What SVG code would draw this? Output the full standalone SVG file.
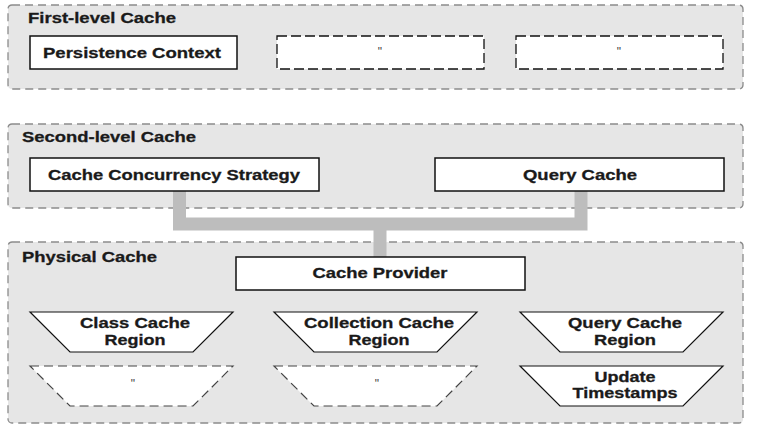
<svg xmlns="http://www.w3.org/2000/svg" width="760" height="436" viewBox="0 0 760 436">
<style>
  .cont{fill:#e6e6e6;stroke:#8c8c8c;stroke-width:1.3;stroke-dasharray:8 5}
  .box{fill:#fff;stroke:#111;stroke-width:1.5}
  .dbox{fill:#fff;stroke:#111;stroke-width:1.3;stroke-dasharray:10 4}
  .trap{fill:#fff;stroke:#111;stroke-width:1.2}
  .dtrap{fill:#fff;stroke:#444;stroke-width:1.2;stroke-dasharray:9 5}
  text{font-family:"Liberation Sans",Arial,Helvetica,sans-serif;font-weight:bold;font-size:15px;fill:#1a1a1a;stroke:#1a1a1a;stroke-width:0.3}
  .c{text-anchor:middle}
  .q{font-size:12px;font-weight:normal;fill:#444;stroke:none}
  .conn{fill:none;stroke:#bdbdbd;stroke-width:13;stroke-linejoin:miter}
</style>
<rect width="760" height="436" fill="#fff"/>
<g id="first-level-cache">
  <rect class="cont" x="8" y="5" width="735" height="84" rx="4"/>
  <text x="28" y="23" textLength="148" lengthAdjust="spacingAndGlyphs">First-level Cache</text>
</g>
<g id="second-level-cache">
  <rect class="cont" x="8" y="124" width="735" height="84" rx="4"/>
  <text x="22" y="142" textLength="174" lengthAdjust="spacingAndGlyphs">Second-level Cache</text>
</g>
<g id="physical-cache">
  <rect class="cont" x="8" y="242" width="735" height="181" rx="4"/>
  <text x="22" y="262" textLength="135" lengthAdjust="spacingAndGlyphs">Physical Cache</text>
</g>
<g id="connectors">
  <path class="conn" d="M179.5,191 V224 H581 V191"/>
  <path class="conn" d="M380,224 V257"/>
</g>
<g id="persistence-context">
  <rect class="box" x="30" y="36" width="207" height="33"/>
  <text class="c" x="132" y="58" textLength="178" lengthAdjust="spacingAndGlyphs">Persistence Context</text>
</g>
<g id="context-2">
  <rect class="dbox" x="277" y="36" width="207" height="33"/>
  <text class="c q" x="380" y="56">"</text>
</g>
<g id="context-3">
  <rect class="dbox" x="516" y="36" width="207" height="33"/>
  <text class="c q" x="619" y="56">"</text>
</g>
<g id="cache-concurrency-strategy">
  <rect class="box" x="30" y="158" width="289" height="33"/>
  <text class="c" x="174" y="180" textLength="252" lengthAdjust="spacingAndGlyphs">Cache Concurrency Strategy</text>
</g>
<g id="query-cache">
  <rect class="box" x="435" y="158" width="289" height="33"/>
  <text class="c" x="580" y="180" textLength="114" lengthAdjust="spacingAndGlyphs">Query Cache</text>
</g>
<g id="cache-provider">
  <rect class="box" x="236" y="257" width="289" height="33"/>
  <text class="c" x="380" y="278" textLength="135" lengthAdjust="spacingAndGlyphs">Cache Provider</text>
</g>
<g id="class-cache-region">
  <polygon class="trap" points="30,312 233,312 193,352 70,352"/>
  <text class="c" x="135" y="328" textLength="110" lengthAdjust="spacingAndGlyphs">Class Cache</text>
  <text class="c" x="135" y="345" textLength="61" lengthAdjust="spacingAndGlyphs">Region</text>
</g>
<g id="class-cache-region-2">
  <polygon class="dtrap" points="30,366 233,366 193,406 70,406"/>
  <text class="c q" x="133" y="388">"</text>
</g>
<g id="collection-cache-region">
  <polygon class="trap" points="274,312 477,312 437,352 314,352"/>
  <text class="c" x="379" y="328" textLength="150" lengthAdjust="spacingAndGlyphs">Collection Cache</text>
  <text class="c" x="379" y="345" textLength="61" lengthAdjust="spacingAndGlyphs">Region</text>
</g>
<g id="collection-cache-region-2">
  <polygon class="dtrap" points="274,366 477,366 437,406 314,406"/>
  <text class="c q" x="377" y="388">"</text>
</g>
<g id="query-cache-region">
  <polygon class="trap" points="520,312 723,312 683,352 560,352"/>
  <text class="c" x="625" y="328" textLength="114" lengthAdjust="spacingAndGlyphs">Query Cache</text>
  <text class="c" x="625" y="345" textLength="62" lengthAdjust="spacingAndGlyphs">Region</text>
</g>
<g id="update-timestamps">
  <polygon class="trap" points="520,366 723,366 683,406 560,406"/>
  <text class="c" x="625" y="382" textLength="61" lengthAdjust="spacingAndGlyphs">Update</text>
  <text class="c" x="625" y="398" textLength="105" lengthAdjust="spacingAndGlyphs">Timestamps</text>
</g>
</svg>
